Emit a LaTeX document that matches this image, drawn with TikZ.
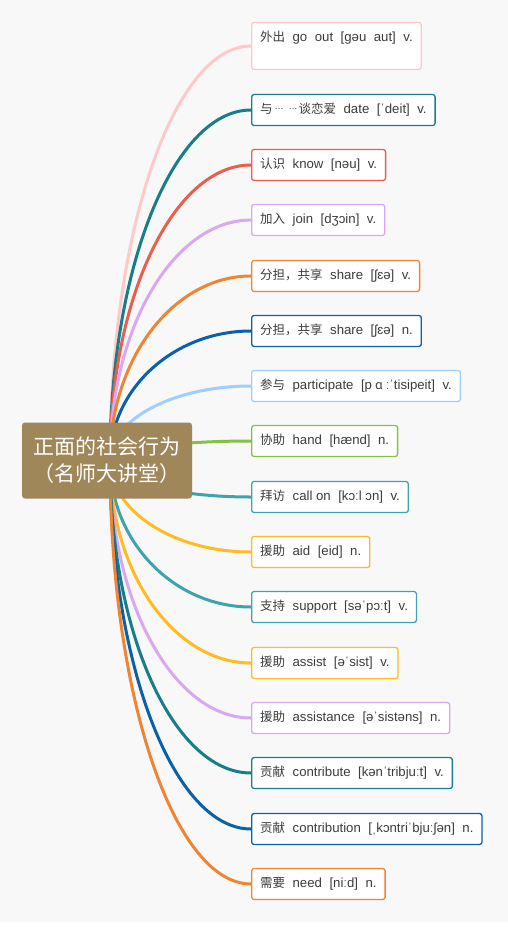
\documentclass[tikz,border=0pt]{standalone}
\usepackage{fontspec}
\setmainfont{Liberation Sans}
\newfontfamily\cjk{Noto Sans CJK SC}
\usetikzlibrary{calc}
\pgfdeclarelayer{bg}
\pgfdeclarelayer{lines}
\pgfsetlayers{bg,lines,main}
\newcommand\zh[1]{{\cjk\fontsize{12.5}{15}\selectfont #1}}
\newcommand\gp{\hspace{7.5pt}}
\newcommand\dts{\raisebox{3.2pt}{\fontsize{9}{10}\selectfont …}}
\definecolor{bgray}{HTML}{F8F8F8}
\definecolor{rootc}{HTML}{9F8759}
\definecolor{txt}{HTML}{3C3C3C}
\definecolor{cpink}{HTML}{FFC9C9}
\definecolor{cteald}{HTML}{177E89}
\definecolor{cred}{HTML}{E95F4F}
\definecolor{clilac}{HTML}{D9A8F0}
\definecolor{corange}{HTML}{EF8532}
\definecolor{cblue}{HTML}{0A61A8}
\definecolor{clblue}{HTML}{9ECFFF}
\definecolor{cgreen}{HTML}{84C147}
\definecolor{cteal}{HTML}{3DA3AF}
\definecolor{cyellow}{HTML}{FFBB22}
\begin{document}
\begin{tikzpicture}[x=1pt,y=-1pt,
  leaf/.style={draw=#1, line width=1.3pt, fill=white, rounded corners=2.5pt,
    anchor=west, inner xsep=8.5pt, inner ysep=9pt, text height=9.5pt, text depth=3.5pt,
    font=\fontsize{13.2}{15}\selectfont, text=txt},
  link/.style={draw=#1, line width=3pt},
  rootbox/.style={fill=rootc, rounded corners=3pt, minimum width=170pt, minimum height=76pt,
    align=center, text=white, font=\cjk\fontsize{21}{27}\selectfont, inner sep=0pt}]
\useasboundingbox (0,0) rectangle (508,929);
\begin{pgfonlayer}{bg}
\fill[white] (0,0) rectangle (508,929);
\fill[bgray] (0,0) rectangle (508,922);
\end{pgfonlayer}
\node[rootbox] (root) at (107,460.5) {正面的社会行为\\（名师大讲堂）};
\node[leaf=cpink, text depth=19.5pt] (l1) at (251,46) {\zh{外出}\gp go\gp out\gp [gəu\gp aut]\gp v.};
\node[leaf=cteald] (l2) at (251,110) {\zh{与}\hspace{2pt}\dts\hspace{5pt}\dts\hspace{1pt}\zh{谈恋爱}\gp date\gp [ˈdeit]\gp v.};
\node[leaf=cred] (l3) at (251,165) {\zh{认识}\gp know\gp [nəu]\gp v.};
\node[leaf=clilac] (l4) at (251,220) {\zh{加入}\gp join\gp [dʒɔin]\gp v.};
\node[leaf=corange] (l5) at (251,276) {\zh{分担，共享}\gp share\gp [ʃɛə]\gp v.};
\node[leaf=cblue] (l6) at (251,331) {\zh{分担，共享}\gp share\gp [ʃɛə]\gp n.};
\node[leaf=clblue] (l7) at (251,386) {\zh{参与}\gp participate\gp [p\hspace{3pt}\zh{ɑ}\hspace{3pt}ːˈtisipeit]\gp v.};
\node[leaf=cgreen] (l8) at (251,441) {\zh{协助}\gp hand\gp [hænd]\gp n.};
\node[leaf=cteal] (l9) at (251,497) {\zh{拜访}\gp call on\gp [kɔːl ɔn]\gp v.};
\node[leaf=cyellow] (l10) at (251,552) {\zh{援助}\gp aid\gp [eid]\gp n.};
\node[leaf=cteal] (l11) at (251,607) {\zh{支持}\gp support\gp [səˈpɔːt]\gp v.};
\node[leaf=cyellow] (l12) at (251,663) {\zh{援助}\gp assist\gp [əˈsist]\gp v.};
\node[leaf=clilac] (l13) at (251,718) {\zh{援助}\gp assistance\gp [əˈsistəns]\gp n.};
\node[leaf=cteald] (l14) at (251,773) {\zh{贡献}\gp contribute\gp [kənˈtribjuːt]\gp v.};
\node[leaf=cblue] (l15) at (251,829) {\zh{贡献}\gp contribution\gp [ˌkɔntriˈbjuːʃən]\gp n.};
\node[leaf=corange] (l16) at (251,884) {\zh{需要}\gp need\gp [niːd]\gp n.};
\begin{pgfonlayer}{lines}
\foreach \nd/\c in {l1/cpink,l2/cteald,l3/cred,l4/clilac,l5/corange,l6/cblue,l7/clblue,l8/cgreen,
  l9/cteal,l10/cyellow,l11/cteal,l12/cyellow,l13/clilac,l14/cteald,l15/cblue,l16/corange}
  \draw[link=\c] let \p1=($(root.center)+(3,0)$), \p2=(\nd.west) in
    (\p1) .. controls (\x1,{\y1+0.55*(\y2-\y1)}) and ({\x2-0.55*(\x2-\x1)},\y2) .. (\p2);
\end{pgfonlayer}
\end{tikzpicture}
\end{document}
